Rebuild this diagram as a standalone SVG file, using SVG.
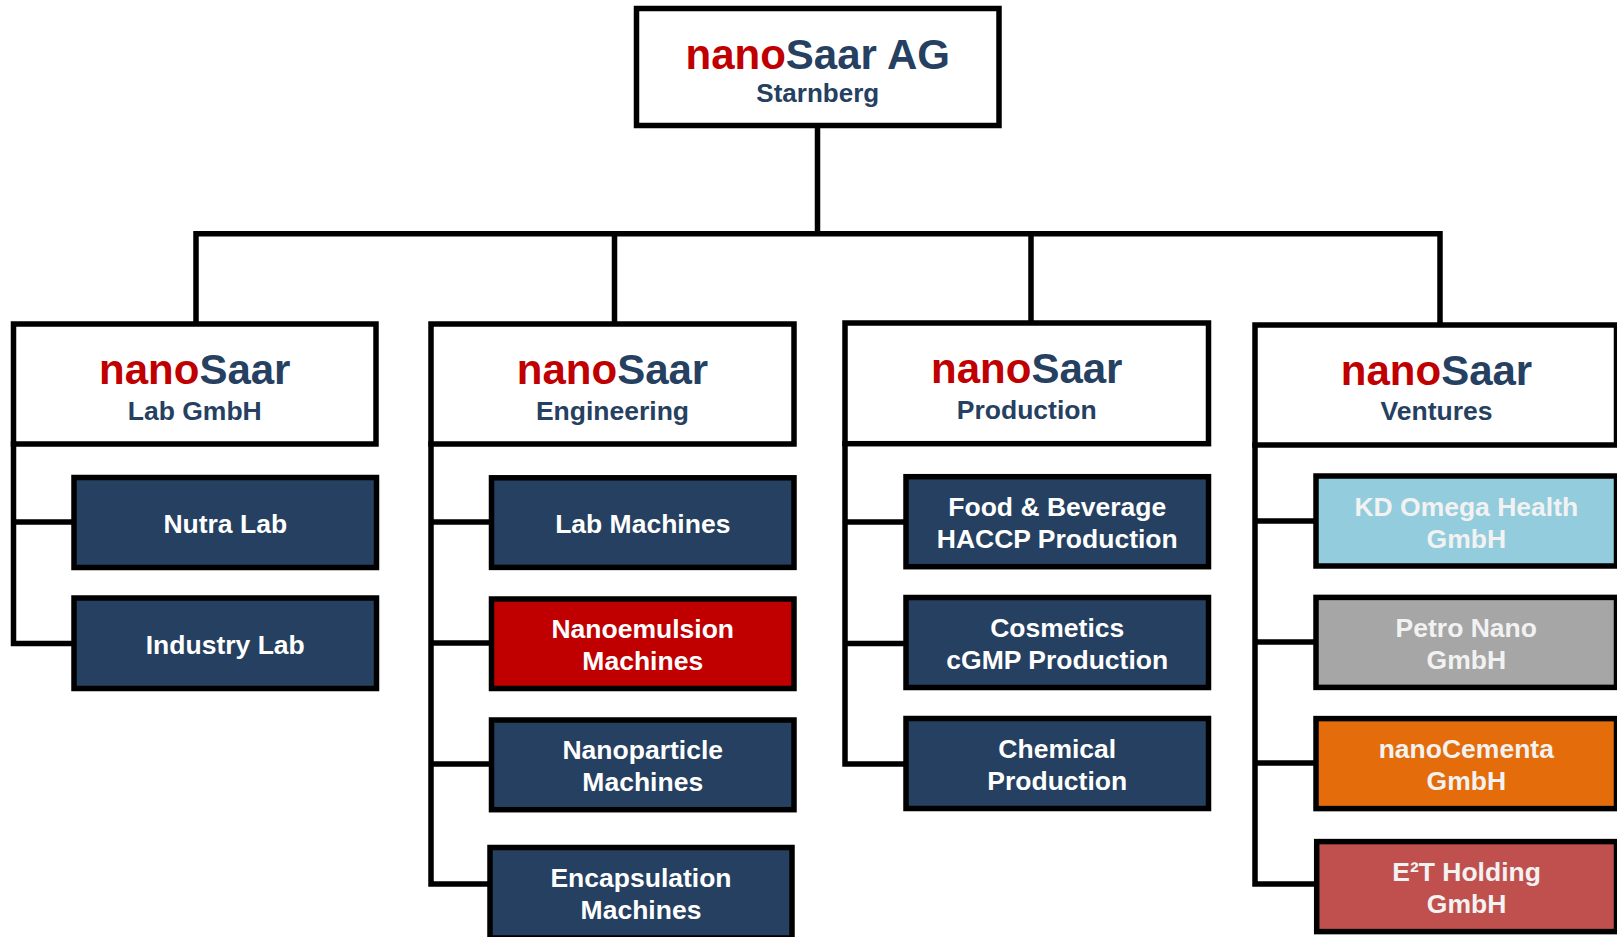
<svg xmlns="http://www.w3.org/2000/svg" width="1617" height="937" viewBox="0 0 1617 937">
<style>
text{font-family:"Liberation Sans",Arial,sans-serif;font-weight:bold;text-anchor:middle}
.hdr{fill:#ffffff;stroke:#000;stroke-width:5.5}
.box{stroke:#000;stroke-width:5.5}
.dk{fill:#254061}
.red{fill:#C00000}
.lb{fill:#93CDDD}
.gr{fill:#A6A6A6}
.or{fill:#E46C0A}
.rs{fill:#C0504D}
.t1{font-size:42px}
.t2{font-size:26.5px;fill:#254061}
.n{fill:#C00000}
.s{fill:#254061}
.w{font-size:26.5px;fill:#ffffff}
.wl{font-size:26.5px;fill:#F2F2F2}
.conn{stroke:#000;stroke-width:5.5;fill:none;stroke-linecap:square}
</style>
<g id="connectors" class="conn">
<path d="M817.5 125.5V233.7M196 233.7H1440M196 233.7V324M614.5 233.7V324M1031 233.7V323M1440 233.7V325"/>
<path d="M13.5 444V643.5M13.5 522H74M13.5 643.5H74"/>
<path d="M431 444V884M431 522H491.5M431 643H491.5M431 764H491.5M431 884H490"/>
<path d="M845 443.7V764M845 522H906M845 643.5H906M845 764H906"/>
<path d="M1255 445V884M1255 521H1316M1255 642H1316M1255 763H1316M1255 884H1316.7"/>
</g>
<g id="root">
<rect class="hdr" x="636.5" y="8.5" width="362.5" height="117"/>
<text class="t1" x="817.75" y="68.5"><tspan class="n">nano</tspan><tspan class="s">Saar AG</tspan></text>
<text class="t2" x="817.75" y="102.3" style="font-size:26px">Starnberg</text>
</g>
<g id="lab">
<rect class="hdr" x="13.5" y="324" width="362.5" height="120"/>
<text class="t1" x="194.75" y="384"><tspan class="n">nano</tspan><tspan class="s">Saar</tspan></text>
<text class="t2" x="194.75" y="420">Lab GmbH</text>
</g>
<g id="engineering">
<rect class="hdr" x="431" y="324" width="363" height="120"/>
<text class="t1" x="612.5" y="384"><tspan class="n">nano</tspan><tspan class="s">Saar</tspan></text>
<text class="t2" x="612.5" y="420">Engineering</text>
</g>
<g id="production">
<rect class="hdr" x="845" y="323" width="363.5" height="120.7"/>
<text class="t1" x="1026.75" y="382.5"><tspan class="n">nano</tspan><tspan class="s">Saar</tspan></text>
<text class="t2" x="1026.75" y="419">Production</text>
</g>
<g id="ventures">
<rect class="hdr" x="1255" y="325" width="361.5" height="120"/>
<text class="t1" x="1436.5" y="384.5"><tspan class="n">nano</tspan><tspan class="s">Saar</tspan></text>
<text class="t2" x="1436.5" y="420">Ventures</text>
</g>
<g id="nutra-lab">
<rect class="box dk" x="74" y="477.5" width="302.5" height="90"/>
<text class="w" x="225.25" y="533">Nutra Lab</text>
</g>
<g id="industry-lab">
<rect class="box dk" x="74" y="598" width="302.5" height="90.5"/>
<text class="w" x="225.25" y="653.8">Industry Lab</text>
</g>
<g id="lab-machines">
<rect class="box dk" x="491.5" y="477.8" width="302.5" height="89.6"/>
<text class="w" x="642.75" y="533">Lab Machines</text>
</g>
<g id="nanoemulsion">
<rect class="box red" x="491.5" y="599" width="302.5" height="89.5"/>
<text class="w" x="642.75" y="638.3">Nanoemulsion</text>
<text class="w" x="642.75" y="670">Machines</text>
</g>
<g id="nanoparticle">
<rect class="box dk" x="491.5" y="720" width="302.5" height="89.7"/>
<text class="w" x="642.75" y="759.3">Nanoparticle</text>
<text class="w" x="642.75" y="791">Machines</text>
</g>
<g id="encapsulation">
<rect class="box dk" x="490" y="847.5" width="302" height="90.5"/>
<text class="w" x="641" y="887.3">Encapsulation</text>
<text class="w" x="641" y="918.8">Machines</text>
</g>
<g id="food-beverage">
<rect class="box dk" x="906" y="476.7" width="302.5" height="90"/>
<text class="w" x="1057.25" y="515.8">Food &amp; Beverage</text>
<text class="w" x="1057.25" y="548">HACCP Production</text>
</g>
<g id="cosmetics">
<rect class="box dk" x="906" y="597.5" width="302.5" height="90"/>
<text class="w" x="1057.25" y="636.8">Cosmetics</text>
<text class="w" x="1057.25" y="668.5">cGMP Production</text>
</g>
<g id="chemical">
<rect class="box dk" x="906" y="718.5" width="302.5" height="90"/>
<text class="w" x="1057.25" y="757.8">Chemical</text>
<text class="w" x="1057.25" y="789.5">Production</text>
</g>
<g id="kd-omega">
<rect class="box lb" x="1316" y="476" width="300.5" height="90"/>
<text class="wl" x="1466.3" y="515.5">KD Omega Health</text>
<text class="wl" x="1466.3" y="547.5">GmbH</text>
</g>
<g id="petro-nano">
<rect class="box gr" x="1316" y="597.4" width="300.5" height="90"/>
<text class="wl" x="1466.3" y="636.8">Petro Nano</text>
<text class="wl" x="1466.3" y="668.5">GmbH</text>
</g>
<g id="nanocementa">
<rect class="box or" x="1316" y="718.6" width="300.5" height="90"/>
<text class="wl" x="1466.3" y="757.8">nanoCementa</text>
<text class="wl" x="1466.3" y="789.5">GmbH</text>
</g>
<g id="e2t-holding">
<rect class="box rs" x="1316.7" y="841.6" width="299.8" height="90"/>
<text class="wl" x="1466.6" y="880.8">E²T Holding</text>
<text class="wl" x="1466.6" y="912.5">GmbH</text>
</g>
</svg>
